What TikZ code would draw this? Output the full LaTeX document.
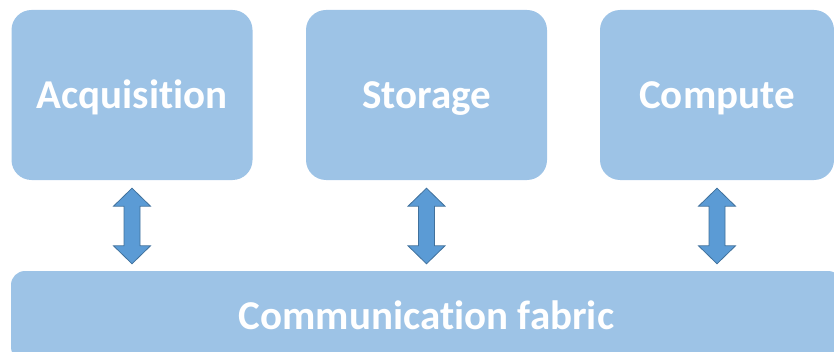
\documentclass[tikz,border=0pt]{standalone}
\usepackage{fontspec}
\setmainfont{Carlito}[Ligatures=NoCommon]
\usepackage{xcolor}
\usetikzlibrary{calc,positioning}
\definecolor{boxBlue}{HTML}{9DC3E6}
\definecolor{linkBlue}{HTML}{5B9BD5}
\definecolor{linkEdge}{HTML}{41719C}
\tikzset{
  unit/.style={rectangle, rounded corners=20pt, draw=none, fill=boxBlue, text=white, minimum width=241pt, minimum height=170pt, inner sep=0pt, text height=30pt, text depth=3.6pt, align=center, font=\bfseries\fontsize{41}{46}\selectfont},
  fabric/.style={rectangle, rounded corners=14pt, draw=none, fill=boxBlue, text=white, minimum width=831pt, minimum height=90pt, inner sep=0pt, text height=30pt, text depth=3.6pt, align=center, font=\bfseries\fontsize{41}{46}\selectfont},
  link/.style={fill=linkBlue, draw=linkEdge, line width=0.8pt, line join=miter}
}
\newcommand{\linkArrow}[3]{%
  \coordinate (#1top) at ($(#2.south)+(0,-8)$);
  \coordinate (#1foot) at (#2.south |- #3.north);
  \coordinate (#1bot) at ($(#1foot)+(0,7)$);
  \draw[link] (#1top) -- ($(#1top)+(18.5,-18)$) -- ($(#1top)+(8,-18)$)
    -- ($(#1bot)+(8,18)$) -- ($(#1bot)+(18.5,18)$) -- (#1bot)
    -- ($(#1bot)+(-18.5,18)$) -- ($(#1bot)+(-8,18)$)
    -- ($(#1top)+(-8,-18)$) -- ($(#1top)+(-18.5,-18)$) -- cycle;
}
\begin{document}
\begin{tikzpicture}[x=1pt,y=1pt]
\clip (0,0) rectangle (834,351);

% --------------------------------------------------------------------------
% Units
% --------------------------------------------------------------------------
\node[unit] (acq) at (132,256) {Acquisition};
\node[unit] (store) at (426.5,256) {Storage};
\node[unit, minimum width=234pt] (comp) at (717,256) {Compute};

% --------------------------------------------------------------------------
% Fabric
% --------------------------------------------------------------------------
\node[fabric] (fab) at (426.5,35) {Communication fabric};

\linkArrow{acqLink}{acq}{fab}
\linkArrow{storeLink}{store}{fab}
\linkArrow{compLink}{comp}{fab}

\end{tikzpicture}
\end{document}
